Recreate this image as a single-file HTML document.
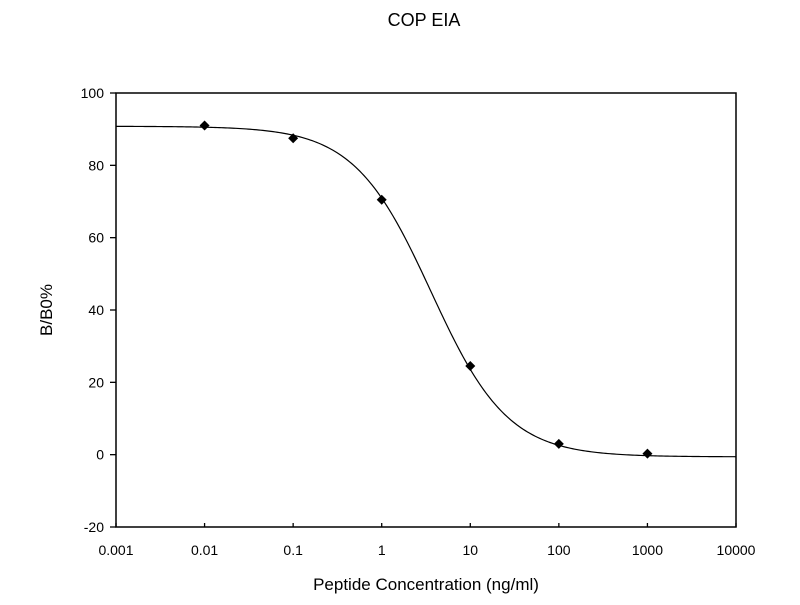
<!DOCTYPE html>
<html><head><meta charset="utf-8"><style>
body{margin:0;background:#fff;}
svg text{font-family:"Liberation Sans",Arial,sans-serif;fill:#000;}
</style></head><body>
<svg id="chart" width="800" height="600">
<text x="424" y="26" font-size="18" text-anchor="middle">COP EIA</text>
<g id="axes"></g>
<path id="curve" fill="none" stroke="#000" stroke-width="1.2"></path>
<g id="points"></g>
<text x="426" y="590" font-size="17" text-anchor="middle">Peptide Concentration (ng/ml)</text>
<text transform="translate(52,310) rotate(-90)" font-size="17" text-anchor="middle">B/B0%</text>
</svg>
<script>
const concentrations=[0.01,0.1,1,10,100,1000];
const bb0Values=[91,87.5,70.5,24.5,3,0.3];
const xTickLabels=["0.001","0.01","0.1","1","10","100","1000","10000"];
const yTickValues=[-20,0,20,40,60,80,100];
const fitTop=[90.8];
const fitBottom=[-0.6];
const fitEC50=[3.6];
const fitHill=[1.0];
const L=116,R=736,T=93,B=527;
const xs=v=>L+(Math.log10(v)+3)/7*(R-L);
const ys=v=>B-(v+20)/120*(B-T);
const NS="http://www.w3.org/2000/svg";
const ax=document.getElementById('axes');
function mk(t,a,p){const e=document.createElementNS(NS,t);for(const k in a)e.setAttribute(k,a[k]);(p||ax).appendChild(e);return e;}
const frame=mk('rect',{x:L,y:T,width:R-L,height:B-T,fill:'none',stroke:'#000','stroke-width':1.5});


yTickValues.forEach(v=>{const y=ys(v);
mk('line',{x1:L-6,x2:L,y1:y,y2:y,stroke:'#000','stroke-width':1.3});
const t=mk('text',{x:L-12,y:y+5,'font-size':14,'text-anchor':'end'});t.textContent=v;

});
xTickLabels.forEach(s=>{const x=xs(parseFloat(s));
mk('line',{x1:x,x2:x,y1:B,y2:B-4,stroke:'#000','stroke-width':1.3});
const t=mk('text',{x:x,y:B+28,'font-size':14,'text-anchor':'middle'});t.textContent=s;

});
let d='';
for(let i=0;i<=300;i++){const lx=-3+7*i/300,c=Math.pow(10,lx);
const v=fitBottom[0]+(fitTop[0]-fitBottom[0])/(1+Math.pow(c/fitEC50[0],fitHill[0]));
d+=(i?'L':'M')+xs(c).toFixed(2)+','+ys(v).toFixed(2);}
document.getElementById('curve').setAttribute('d',d);
const pg=document.getElementById('points');
concentrations.forEach((c,i)=>{const x=xs(c),y=ys(bb0Values[i]);
const p=mk('path',{d:`M${x},${y-5}L${x+5},${y}L${x},${y+5}L${x-5},${y}Z`,fill:'#000'},pg);

});
</script>
</body></html>
